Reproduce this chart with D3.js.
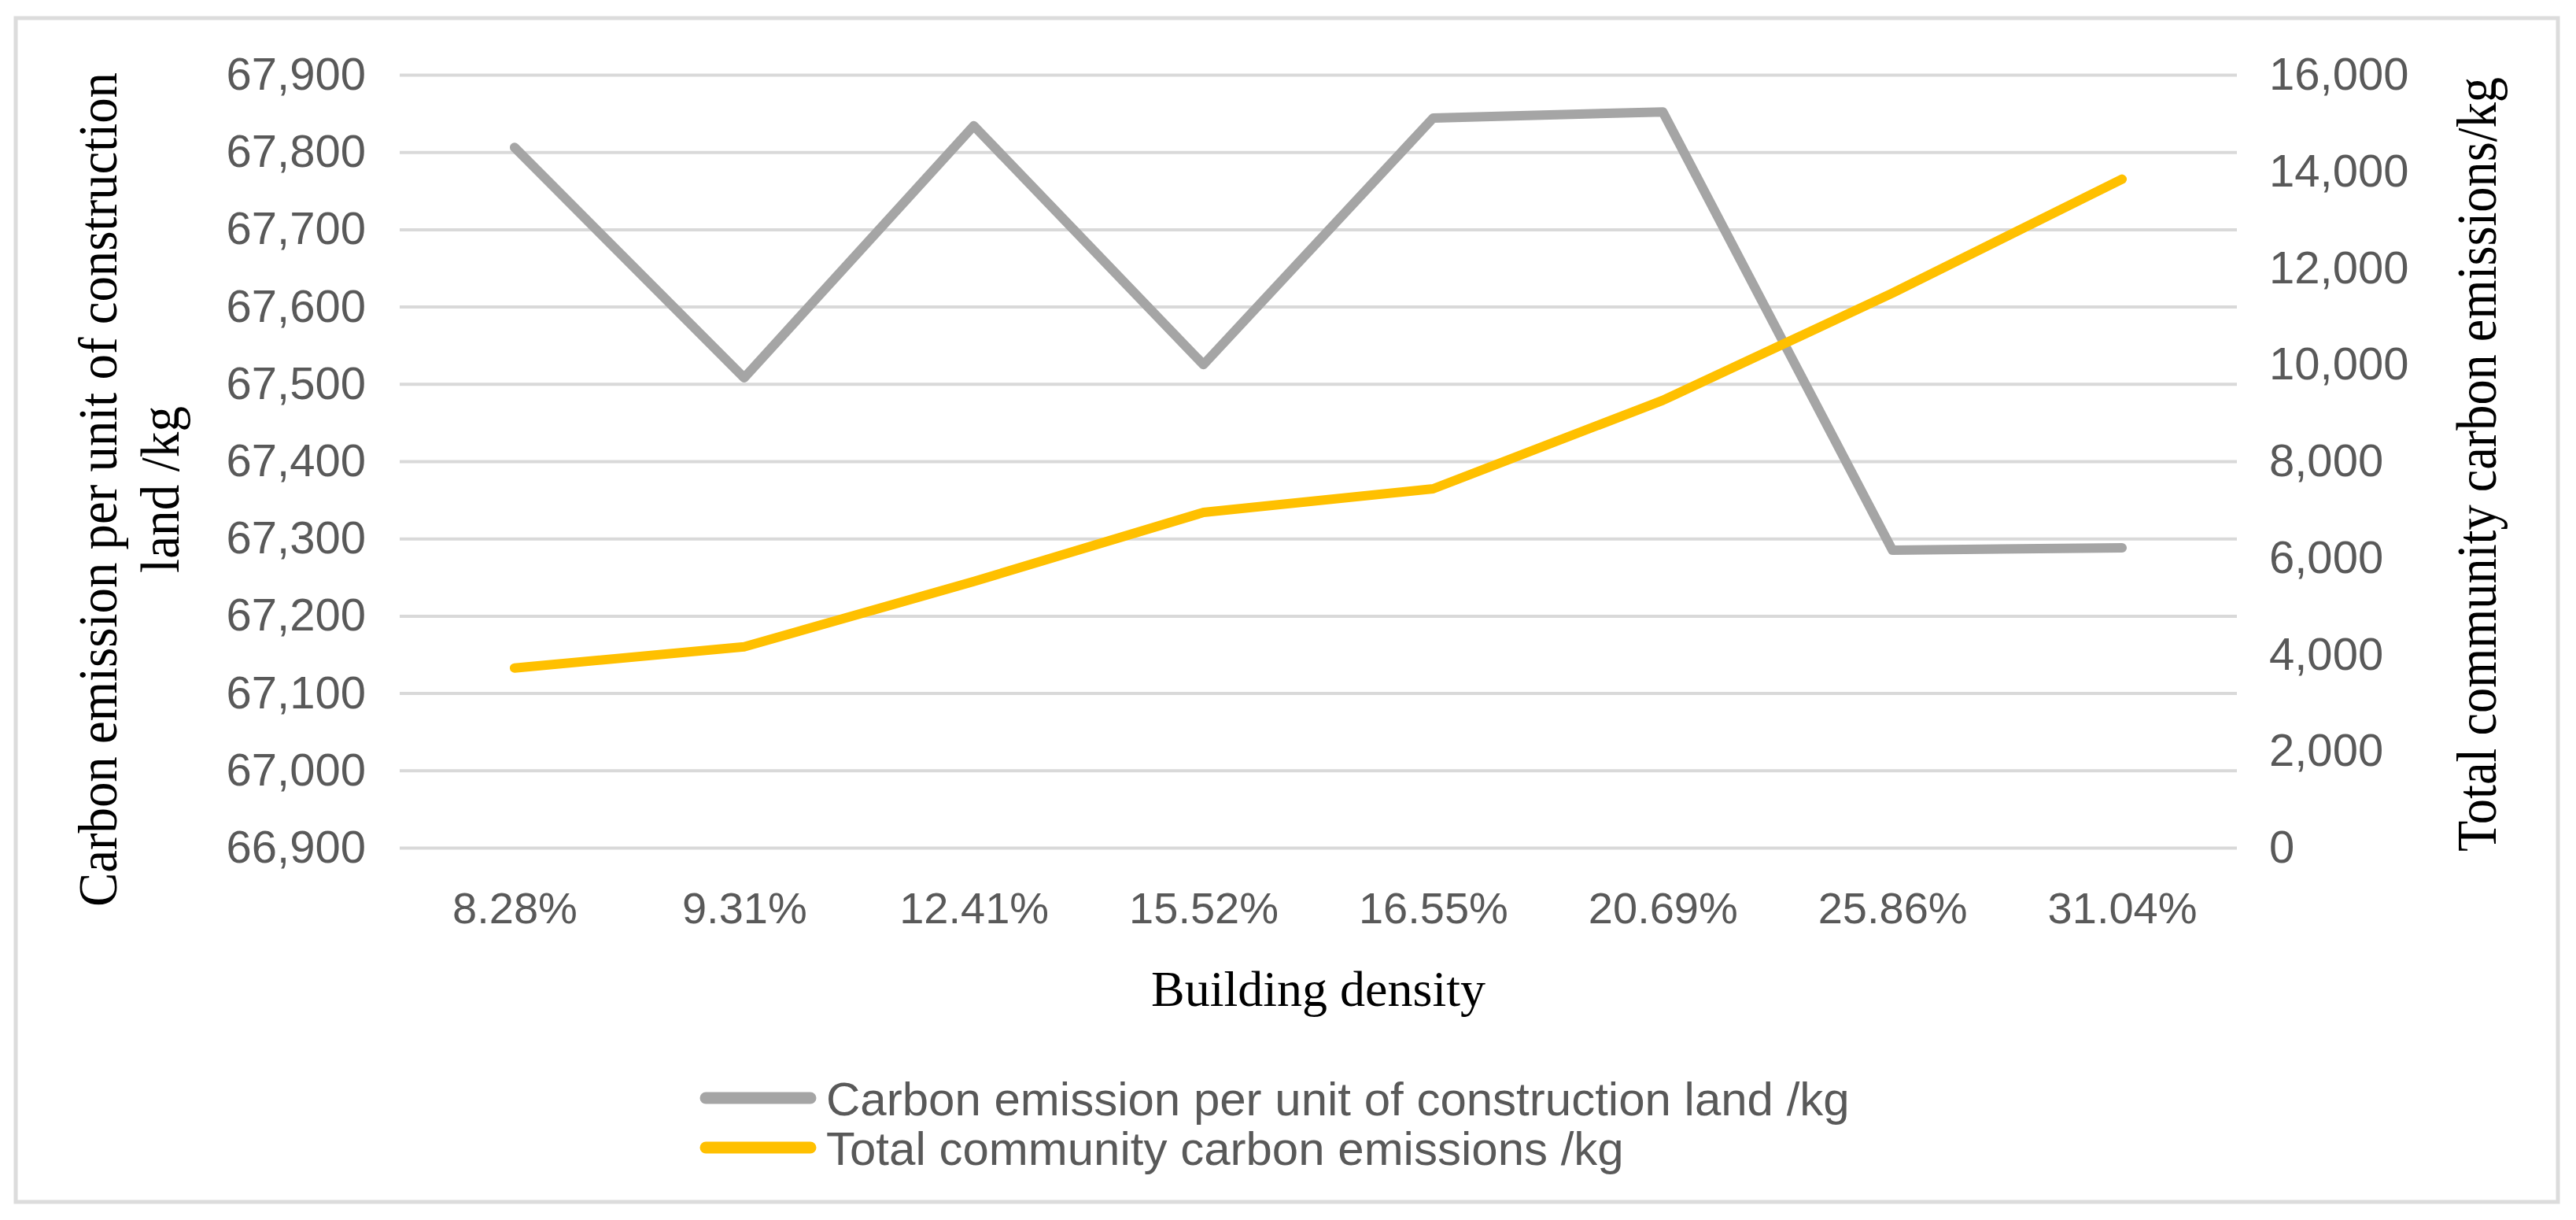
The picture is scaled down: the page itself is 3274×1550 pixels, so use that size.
<!DOCTYPE html>
<html>
<head>
<meta charset="utf-8">
<script src="https://cdn.jsdelivr.net/npm/d3@7"></script>
<style>
  body { margin: 0; background: #fff; }
  .tick text { font-family: "Liberation Sans", Arial, sans-serif; fill: #595959; }
</style>
</head>
<body>
<script>
// building density categories
var categories = ["8.28%", "9.31%", "12.41%", "15.52%", "16.55%", "20.69%", "25.86%", "31.04%"];
// carbon emission per unit of construction land (left axis)
var perUnit = [67806, 67508, 67834, 67525, 67844, 67852, 67285, 67288];
// total community carbon emissions (right axis)
var totalEmis = [3720, 4160, 5510, 6940, 7430, 9260, 11480, 13840];

var leftTicks = [66900, 67000, 67100, 67200, 67300, 67400, 67500, 67600, 67700, 67800, 67900];
var rightTicks = [0, 2000, 4000, 6000, 8000, 10000, 12000, 14000, 16000];

var seriesNames = ["Carbon emission per unit of construction land /kg", "Total community carbon emissions /kg"];
var seriesColors = ["#a5a5a5", "#ffc000"];

var width = 3274, height = 1550;
var plotL = 508, plotR = 2843, plotT = 95, plotB = 1077;

var svg = d3.select("body").append("svg")
  .attr("width", width)
  .attr("height", height);

svg.append("rect")
  .attr("x", 20).attr("y", 23)
  .attr("width", 3231).attr("height", 1504)
  .attr("fill", "#fff")
  .attr("stroke", "#dcdcdc")
  .attr("stroke-width", 5);

var x = d3.scalePoint().domain(categories).range([plotL, plotR]).padding(0.5);
var yL = d3.scaleLinear().domain([66900, 67900]).range([plotB, plotT]);
var yR = d3.scaleLinear().domain([0, 16000]).range([plotB, plotT]);

var fmt = d3.format(",");

// left axis + gridlines
var gL = svg.append("g")
  .attr("transform", "translate(" + plotL + ",0)")
  .call(d3.axisLeft(yL).tickValues(leftTicks).tickFormat(fmt).tickSize(-(plotR - plotL)).tickPadding(43));
gL.select(".domain").remove();
gL.selectAll(".tick line").attr("stroke", "#d9d9d9").attr("stroke-width", 4);
gL.selectAll(".tick text").attr("font-size", 58);

// right axis
var gR = svg.append("g")
  .attr("transform", "translate(" + plotR + ",0)")
  .call(d3.axisRight(yR).tickValues(rightTicks).tickFormat(fmt).tickSize(0).tickPadding(41));
gR.select(".domain").remove();
gR.selectAll(".tick text").attr("font-size", 58);

// x axis
var gX = svg.append("g")
  .attr("transform", "translate(0," + plotB + ")")
  .call(d3.axisBottom(x).tickSize(0).tickPadding(56));
gX.select(".domain").remove();
gX.selectAll(".tick text").attr("font-size", 56);

// lines
var lineL = d3.line()
  .x(function(d, i) { return x(categories[i]); })
  .y(function(d) { return yL(d); });
var lineR = d3.line()
  .x(function(d, i) { return x(categories[i]); })
  .y(function(d) { return yR(d); });

svg.append("path")
  .datum(perUnit)
  .attr("d", lineL)
  .attr("fill", "none")
  .attr("stroke", seriesColors[0])
  .attr("stroke-width", 12)
  .attr("stroke-linejoin", "round")
  .attr("stroke-linecap", "round");

svg.append("path")
  .datum(totalEmis)
  .attr("d", lineR)
  .attr("fill", "none")
  .attr("stroke", seriesColors[1])
  .attr("stroke-width", 12)
  .attr("stroke-linejoin", "round")
  .attr("stroke-linecap", "round");

// axis titles
var serif = "'Liberation Serif', 'Times New Roman', serif";

var lt = svg.append("g").attr("transform", "translate(148,622) rotate(-90)");
lt.append("text")
  .attr("text-anchor", "middle")
  .attr("font-family", serif).attr("font-size", 70).attr("fill", "#000")
  .attr("textLength", 1060).attr("lengthAdjust", "spacingAndGlyphs")
  .text("Carbon emission per unit of construction");
lt.append("text")
  .attr("y", 79)
  .attr("text-anchor", "middle")
  .attr("font-family", serif).attr("font-size", 70).attr("fill", "#000")
  .attr("textLength", 212).attr("lengthAdjust", "spacingAndGlyphs")
  .text("land /kg");

svg.append("text")
  .attr("transform", "translate(3172,590) rotate(-90)")
  .attr("text-anchor", "middle")
  .attr("font-family", serif).attr("font-size", 72).attr("fill", "#000")
  .attr("textLength", 984).attr("lengthAdjust", "spacingAndGlyphs")
  .text("Total community carbon emissions/kg");

svg.append("text")
  .attr("x", (plotL + plotR) / 2).attr("y", 1278)
  .attr("text-anchor", "middle")
  .attr("font-family", serif).attr("font-size", 64).attr("fill", "#000")
  .text("Building density");

// legend
var leg = svg.append("g");
seriesNames.forEach(function(name, i) {
  var ly = 1395 + i * 63;
  leg.append("line")
    .attr("x1", 897).attr("x2", 1030)
    .attr("y1", ly).attr("y2", ly)
    .attr("stroke", seriesColors[i])
    .attr("stroke-width", 15)
    .attr("stroke-linecap", "round");
  leg.append("text")
    .attr("x", 1050).attr("y", ly + 22)
    .attr("font-family", "'Liberation Sans', Arial, sans-serif")
    .attr("font-size", 60).attr("fill", "#595959")
    .text(name);
});
</script>
</body>
</html>
